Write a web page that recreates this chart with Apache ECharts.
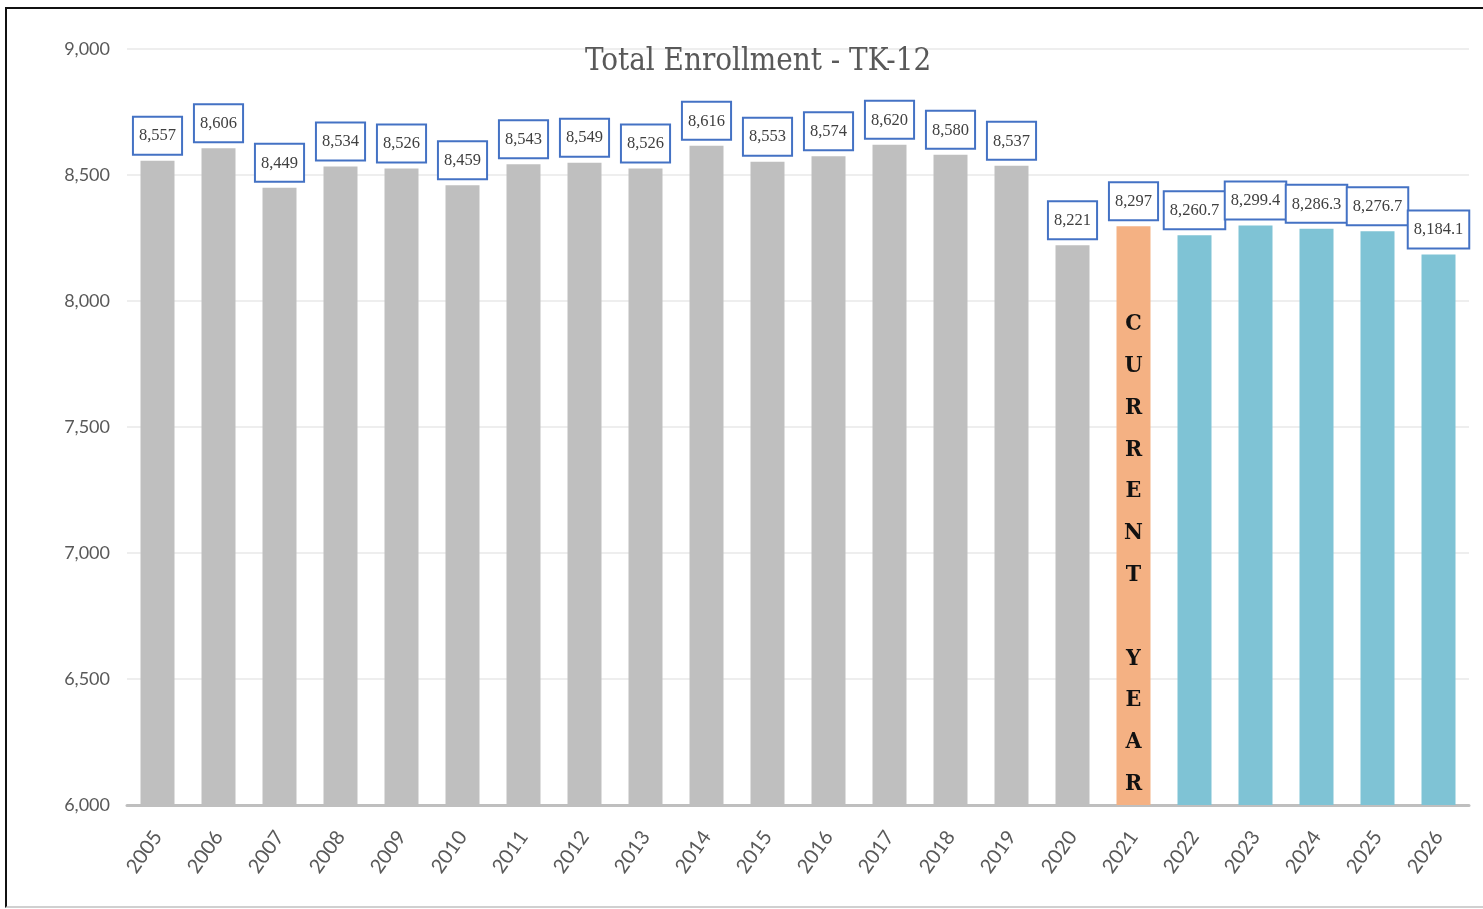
<!DOCTYPE html>
<html><head><meta charset="utf-8">
<script src="https://cdn.jsdelivr.net/npm/echarts@6/dist/echarts.min.js"></script>
<style>
html,body{margin:0;padding:0;background:#fff;}
#frame{position:absolute;left:5px;top:7px;width:1500px;height:897px;border-left:2px solid #111;border-top:2px solid #111;border-bottom:2px solid #d0d0d0;}
#chart{position:absolute;left:0;top:0;width:1483px;height:909px;}
</style></head>
<body>
<div id="frame"></div>
<div id="chart"></div>
<script>
const years = ['2005','2006','2007','2008','2009','2010','2011','2012','2013','2014','2015','2016','2017','2018','2019','2020','2021','2022','2023','2024','2025','2026'];
const enrollment = [8557,8606,8449,8534,8526,8459,8543,8549,8526,8616,8553,8574,8620,8580,8537,8221,8297,8260.7,8299.4,8286.3,8276.7,8184.1];
const currentYear = '2021';
const currentYearText = 'C\nU\nR\nR\nE\nN\nT\n\nY\nE\nA\nR';
const yTicks = [6000, 6500, 7000, 7500, 8000, 8500, 9000];

const curIdx = years.indexOf(currentYear);
const titleFont = '"DejaVu Serif Condensed", "DejaVu Serif", serif';
const labelFont = '"Liberation Serif", serif';
const axisFont = 'Lato, "Open Sans", sans-serif';
const fmt = v => Number(v).toLocaleString('en-US', {maximumFractionDigits: 1});

const chart = echarts.init(document.getElementById('chart'));
chart.setOption({
  animation: false,
  title: {
    text: 'Total Enrollment - TK-12',
    left: 580, top: 41,
    textStyle: {fontFamily: titleFont, fontSize: 31, fontWeight: 'normal', color: '#595959'}
  },
  grid: {left: 127, right: 14, top: 49, bottom: 104},
  xAxis: {
    type: 'category', data: years,
    axisLine: {lineStyle: {color: '#bfbfbf', width: 3}},
    axisTick: {show: false},
    axisLabel: {rotate: 55, margin: 28, fontFamily: axisFont, fontSize: 20, color: '#595959'}
  },
  yAxis: {
    type: 'value', min: yTicks[0], max: yTicks[yTicks.length-1], interval: 500,
    axisLine: {show: false}, axisTick: {show: false},
    splitLine: {lineStyle: {color: '#e8e8e8', width: 1.5}},
    axisLabel: {margin: 17, fontFamily: axisFont, fontSize: 18, color: '#595959', formatter: v => fmt(v)}
  },
  series: [{
    type: 'bar', data: enrollment, barWidth: 34,
    itemStyle: {color: p => p.dataIndex < curIdx ? '#bfbfbf' : (p.dataIndex === curIdx ? '#f4b183' : '#7fc3d5')},
    label: {
      show: true, position: 'top', distance: 7,
      formatter: p => fmt(p.value),
      fontFamily: labelFont, fontSize: 16.5, color: '#404040',
      backgroundColor: '#fff', borderColor: '#4472c4', borderWidth: 2,
      padding: [10, 5, 9, 5]
    }
  }, {
    type: 'bar', barWidth: 34, barGap: '-100%',
    data: enrollment.map((v, i) => i === curIdx ? v : '-'),
    itemStyle: {color: 'rgba(0,0,0,0)'},
    label: {
      show: true, position: 'insideBottom', distance: 0,
      formatter: currentYearText,
      fontFamily: titleFont, fontWeight: 'bold', fontSize: 23, lineHeight: 41.8, color: '#111'
    },
    silent: true
  }]
});
</script>
</body></html>
